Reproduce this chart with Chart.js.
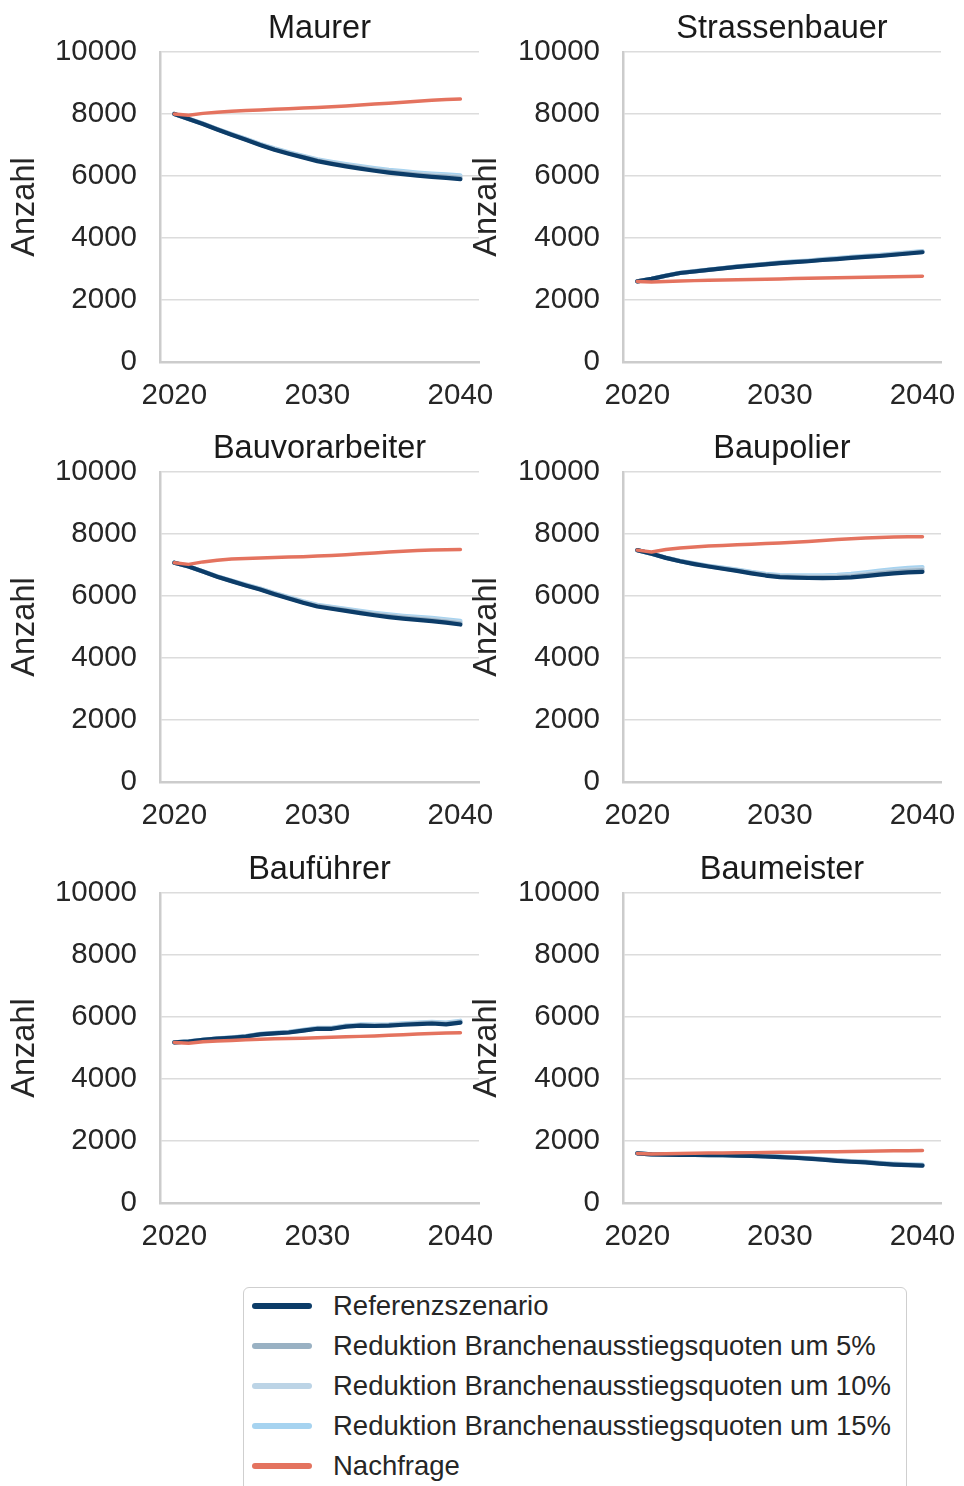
<!DOCTYPE html>
<html>
<head>
<meta charset="utf-8">
<script src="https://cdn.jsdelivr.net/npm/chart.js@4.4.1/dist/chart.umd.min.js"></script>
<style>
  html, body { margin: 0; padding: 0; background: #ffffff; width: 964px; height: 1486px; overflow: hidden; }
  canvas.panel { position: absolute; }
  #legend {
    position: absolute; left: 243px; top: 1287px; width: 664px; height: 240px;
    border: 1.5px solid #cfcfcf; border-radius: 6px; box-sizing: border-box; background: #fff;
    font-family: "Liberation Sans", Arial, sans-serif; font-size: 27.5px; color: #262626;
  }
  #legend .row { position: absolute; left: 0; height: 40px; display: flex; align-items: center; white-space: nowrap; }
  #legend .sw { width: 60px; height: 6px; border-radius: 3px; margin-left: 8px; margin-right: 21px; }
</style>
</head>
<body>
<canvas id="c0" class="panel" width="519" height="415" style="left:0px;top:0px"></canvas>
<canvas id="c1" class="panel" width="519" height="415" style="left:462px;top:0px"></canvas>
<canvas id="c2" class="panel" width="519" height="415" style="left:0px;top:420px"></canvas>
<canvas id="c3" class="panel" width="519" height="415" style="left:462px;top:420px"></canvas>
<canvas id="c4" class="panel" width="519" height="415" style="left:0px;top:841px"></canvas>
<canvas id="c5" class="panel" width="519" height="415" style="left:462px;top:841px"></canvas>
<div id="legend"></div>
<script>
// Years of the projection
const years = [2020,2021,2022,2023,2024,2025,2026,2027,2028,2029,2030,2031,2032,2033,2034,2035,2036,2037,2038,2039,2040];
const xTicks = [2020, 2030, 2040];
const yTicks = [0, 2000, 4000, 6000, 8000, 10000];

const occupations = ["Maurer", "Strassenbauer", "Bauvorarbeiter", "Baupolier", "Bauführer", "Baumeister"];
const seriesNames = [
  "Referenzszenario",
  "Reduktion Branchenausstiegsquoten um 5%",
  "Reduktion Branchenausstiegsquoten um 10%",
  "Reduktion Branchenausstiegsquoten um 15%",
  "Nachfrage"
];
const seriesColors = ["#0c3c68", "#99b1c3", "#bcd4e6", "#a6d3f0", "#e4735f"];

// Maurer
const maurerRef  = [8000,7840,7680,7500,7330,7170,7000,6850,6720,6600,6480,6390,6310,6240,6170,6110,6060,6010,5970,5940,5900];
const maurer5    = [8000,7842,7684,7506,7338,7180,7012,6864,6736,6618,6500,6412,6334,6266,6198,6140,6092,6044,6006,5978,5940];
const maurer10   = [8000,7845,7690,7512,7346,7190,7024,6878,6752,6636,6520,6434,6358,6292,6226,6170,6124,6078,6042,6016,5980];
const maurer15   = [8000,7848,7696,7520,7355,7200,7036,6892,6768,6654,6540,6456,6382,6318,6256,6200,6156,6112,6078,6052,6020];
const maurerNach = [8000,7960,8020,8060,8090,8110,8130,8150,8170,8190,8210,8235,8260,8290,8320,8350,8380,8410,8440,8465,8480];

// Strassenbauer
const strasseRef  = [2600,2680,2780,2870,2920,2970,3020,3070,3110,3150,3190,3220,3250,3290,3320,3360,3390,3420,3460,3500,3540];
const strasse5    = [2600,2681,2782,2872,2923,2974,3025,3075,3116,3156,3197,3228,3258,3299,3330,3370,3401,3431,3472,3512,3553];
const strasse10   = [2600,2682,2783,2874,2926,2977,3029,3080,3121,3162,3204,3235,3266,3308,3339,3380,3412,3443,3484,3525,3566];
const strasse15   = [2600,2683,2785,2876,2929,2981,3033,3085,3127,3169,3211,3243,3275,3317,3349,3391,3423,3455,3497,3538,3580];
const strasseNach = [2600,2580,2600,2615,2625,2635,2645,2655,2665,2672,2680,2690,2700,2710,2718,2726,2734,2742,2750,2760,2770];

// Bauvorarbeiter
const vorarbRef  = [7075,6950,6790,6620,6480,6340,6210,6060,5920,5780,5660,5590,5520,5450,5380,5320,5270,5230,5190,5140,5080];
const vorarb5    = [7075,6951,6793,6625,6487,6349,6221,6073,5935,5797,5679,5611,5543,5475,5407,5349,5301,5263,5225,5177,5119];
const vorarb10   = [7075,6952,6796,6630,6494,6358,6232,6086,5950,5814,5698,5632,5566,5500,5434,5378,5332,5296,5260,5214,5158];
const vorarb15   = [7075,6953,6799,6635,6501,6367,6243,6099,5965,5831,5717,5653,5589,5525,5461,5407,5363,5329,5295,5251,5197];
const vorarbNach = [7075,7020,7100,7150,7190,7210,7225,7240,7255,7270,7290,7310,7330,7360,7390,7420,7445,7465,7480,7490,7500];

// Baupolier
const polierRef  = [7480,7360,7230,7120,7030,6950,6880,6810,6730,6660,6610,6590,6580,6575,6580,6600,6640,6690,6730,6760,6780];
const polier5    = [7480,7361,7233,7125,7037,6959,6891,6824,6746,6679,6632,6615,6608,6606,6614,6637,6680,6733,6776,6809,6832];
const polier10   = [7480,7362,7236,7130,7044,6968,6902,6838,6762,6698,6654,6640,6636,6637,6648,6674,6720,6776,6822,6858,6884];
const polier15   = [7480,7363,7239,7135,7051,6977,6913,6852,6778,6717,6676,6665,6664,6668,6682,6711,6760,6819,6868,6907,6936];
const polierNach = [7480,7420,7500,7550,7580,7610,7630,7650,7670,7690,7710,7730,7760,7790,7820,7850,7870,7890,7900,7910,7910];

// Bauführer
const fuehrerRef  = [5180,5210,5260,5300,5330,5370,5440,5470,5500,5560,5620,5620,5690,5720,5710,5720,5750,5770,5790,5760,5820];
const fuehrer5    = [5180,5211,5262,5303,5334,5375,5446,5477,5508,5569,5630,5631,5702,5733,5724,5735,5766,5787,5808,5779,5840];
const fuehrer10   = [5180,5212,5264,5306,5338,5380,5452,5484,5516,5578,5640,5642,5714,5746,5738,5750,5782,5804,5826,5798,5860];
const fuehrer15   = [5180,5213,5266,5309,5342,5385,5458,5491,5524,5587,5650,5653,5726,5759,5752,5765,5798,5821,5844,5817,5880];
const fuehrerNach = [5180,5150,5200,5225,5245,5265,5280,5295,5305,5315,5330,5345,5360,5375,5390,5410,5430,5450,5465,5480,5490];

// Baumeister
const meisterRef  = [1600,1570,1560,1550,1550,1545,1540,1530,1520,1500,1480,1460,1430,1400,1360,1330,1310,1270,1240,1220,1205];
const meister5    = [1600,1570,1561,1551,1551,1547,1542,1533,1523,1504,1485,1465,1436,1407,1367,1338,1318,1279,1249,1230,1215];
const meister10   = [1600,1571,1562,1552,1553,1549,1545,1536,1527,1508,1489,1471,1442,1413,1374,1345,1326,1287,1258,1239,1225];
const meister15   = [1600,1571,1563,1553,1554,1551,1547,1539,1530,1512,1494,1476,1448,1420,1381,1353,1334,1296,1267,1249,1235];
const meisterNach = [1600,1580,1590,1600,1605,1610,1615,1620,1625,1630,1635,1640,1645,1650,1655,1660,1668,1675,1682,1688,1690];

const panelSeries = [
  [maurerRef, maurer5, maurer10, maurer15, maurerNach],
  [strasseRef, strasse5, strasse10, strasse15, strasseNach],
  [vorarbRef, vorarb5, vorarb10, vorarb15, vorarbNach],
  [polierRef, polier5, polier10, polier15, polierNach],
  [fuehrerRef, fuehrer5, fuehrer10, fuehrer15, fuehrerNach],
  [meisterRef, meister5, meister10, meister15, meisterNach]
];

const FONT = '"Liberation Sans", Arial, Helvetica, sans-serif';
const TEXT = '#262626';

function toPoints(values) {
  return years.map((yr, i) => ({ x: yr, y: values[i] }));
}

function buildPanel(canvasId, title, series, rightColumn) {
  // demand on top, then reference, then the reduction scenarios underneath
  const drawOrder = [4, 0, 1, 2, 3];
  const datasets = drawOrder.map(k => ({
    label: seriesNames[k],
    data: toPoints(series[k]),
    borderColor: seriesColors[k],
    backgroundColor: seriesColors[k],
    borderWidth: k === 4 ? 3.5 : 4.2,
    pointRadius: 0,
    tension: 0,
    fill: false,
    borderCapStyle: 'round',
    borderJoinStyle: 'round'
  }));

  new Chart(document.getElementById(canvasId), {
    type: 'line',
    data: { datasets },
    options: {
      responsive: false,
      animation: false,
      events: [],
      layout: { padding: { left: 0, right: 40, top: 0, bottom: 0 } },
      plugins: {
        legend: { display: false },
        tooltip: { enabled: false },
        title: {
          display: true,
          text: title,
          fullSize: false,
          color: '#1a1a1a',
          font: { family: FONT, size: 32.5, weight: 'normal', lineHeight: 1.2 },
          padding: { top: 10, bottom: 3 }
        }
      },
      scales: {
        x: {
          type: 'linear',
          min: 2019,
          max: 2041.3,
          afterBuildTicks: s => { s.ticks = xTicks.map(v => ({ value: v })); },
          afterFit: s => { s.height = 53; },
          grid: { display: false, drawTicks: false },
          border: { display: true, color: '#cccccc', width: 2.5 },
          ticks: {
            color: TEXT,
            padding: 16,
            maxRotation: 0,
            autoSkip: false,
            font: { family: FONT, size: 29.5 },
            callback: v => String(v)
          }
        },
        y: {
          type: 'linear',
          min: 0,
          max: 10000,
          afterBuildTicks: s => { s.ticks = yTicks.map(v => ({ value: v })); },
          afterFit: s => { s.width = rightColumn ? 161 : 160; },
          grid: { display: true, drawTicks: false, color: '#dcdcdc', lineWidth: 1.6 },
          border: { display: true, color: '#cccccc', width: 2.5 },
          title: {
            display: true,
            text: 'Anzahl',
            color: TEXT,
            font: { family: FONT, size: 32.5, lineHeight: 1.2 },
            padding: { top: 6, bottom: 0 }
          },
          ticks: {
            color: TEXT,
            padding: 23,
            font: { family: FONT, size: 29.5 },
            callback: v => String(v)
          }
        }
      }
    }
  });
}

occupations.forEach((name, i) => {
  buildPanel('c' + i, name, panelSeries[i], i % 2 === 1);
});

// Shared legend below the panels
const legend = document.getElementById('legend');
seriesNames.forEach((name, k) => {
  const row = document.createElement('div');
  row.className = 'row';
  row.style.top = (-2 + k * 40) + 'px';
  const sw = document.createElement('div');
  sw.className = 'sw';
  sw.style.background = seriesColors[k];
  const label = document.createElement('span');
  label.textContent = name;
  row.appendChild(sw);
  row.appendChild(label);
  legend.appendChild(row);
});
</script>
</body>
</html>
